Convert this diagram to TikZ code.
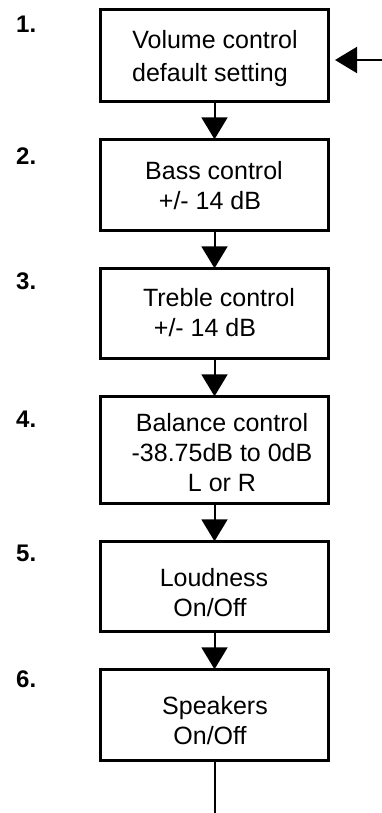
\documentclass[tikz,border=0pt]{standalone}
\usepackage{fontspec}
\setmainfont{Liberation Sans}
\usetikzlibrary{arrows.meta}
\begin{document}
\begin{tikzpicture}[x=1pt,y=-1pt,
  stagebox/.style={draw,line width=2.6pt,inner sep=0pt,outer sep=0pt,minimum width=228pt},
  lbl/.style={font=\fontsize{25}{29}\selectfont,inner sep=0pt,anchor=base},
  num/.style={font=\fontsize{24}{28}\selectfont\bfseries,inner sep=0pt,anchor=base west},
  arr/.style={line width=2pt,-{Triangle[width=26pt,length=22pt]}},
  plain/.style={line width=2pt}]
\useasboundingbox (0,0) rectangle (382,813);
% boxes
\node[stagebox,minimum height=92.4pt] (b1) at (214.5,55.5) {};
\node[stagebox,minimum height=91.4pt] (b2) at (214.5,185) {};
\node[stagebox,minimum height=90.4pt] (b3) at (214.5,313.5) {};
\node[stagebox,minimum height=107.4pt] (b4) at (214.5,450) {};
\node[stagebox,minimum height=90.4pt] (b5) at (214.5,586.5) {};
\node[stagebox,minimum height=91.4pt] (b6) at (214.5,715) {};
% numbers
\node[num] (n1) at (16,33) {1.};
\node[num] (n2) at (16,165) {2.};
\node[num] (n3) at (16,289) {3.};
\node[num] (n4) at (16,427) {4.};
\node[num] (n5) at (16,561) {5.};
\node[num] (n6) at (16,687) {6.};
% texts
\node[lbl] (t1a) at (215,49) {Volume control};
\node[lbl] (t1b) at (210,82) {default setting};
\node[lbl] (t2a) at (214,179) {Bass control};
\node[lbl] (t2b) at (210,209) {+/- 14 dB};
\node[lbl] (t3a) at (219,306) {Treble control};
\node[lbl] (t3b) at (205,336) {+/- 14 dB};
\node[lbl] (t4a) at (222,431) {Balance control};
\node[lbl] (t4b) at (222,461) {-38.75dB to 0dB};
\node[lbl] (t4c) at (222,491) {L or R};
\node[lbl] (t5a) at (214,586) {Loudness};
\node[lbl] (t5b) at (210,616) {On/Off};
\node[lbl] (t6a) at (215,714) {Speakers};
\node[lbl] (t6b) at (210,744) {On/Off};
% connectors
\draw[arr] (b1.south) -- (b2.north);
\draw[arr] (b2.south) -- (b3.north);
\draw[arr] (b3.south) -- (b4.north);
\draw[arr] (b4.south) -- (b5.north);
\draw[arr] (b5.south) -- (b6.north);
\coordinate (inarrow) at (382,60);
\draw[arr,shorten >=6.5pt] (inarrow) -- (inarrow -| b1.east);
\coordinate (outend) at (214.5,813);
\draw[plain] (b6.south) -- (outend);
\end{tikzpicture}
\end{document}
